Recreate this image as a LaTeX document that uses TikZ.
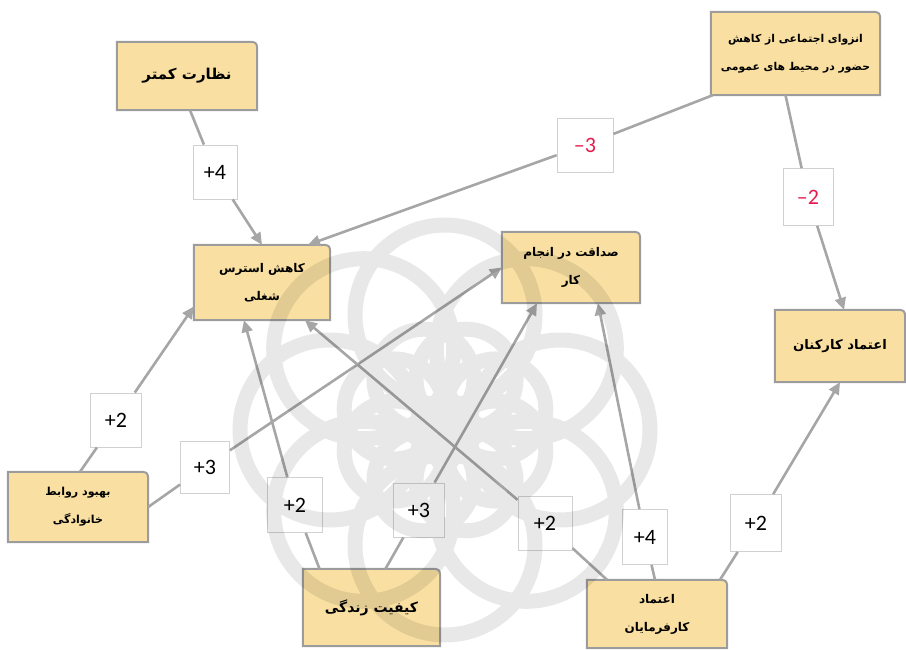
\documentclass[tikz,border=0pt]{standalone}
\usepackage{fontspec}
\usetikzlibrary{arrows.meta,backgrounds}
\TeXXeTstate=1
\newfontfamily\farsi[Script=Arabic]{DejaVu Sans}
\newfontfamily\numfont{Carlito}
\definecolor{cardfill}{HTML}{F9E0A2}
\definecolor{cardline}{HTML}{9C9C9C}
\definecolor{linkgray}{HTML}{A6A6A6}
\definecolor{negred}{HTML}{E8194C}

\begin{document}
\begin{tikzpicture}
  [x=1pt,y=-1pt,
   card/.style 2 args={minimum width=#1,minimum height=#2,inner sep=0pt,
     align=center,font=\farsi\bfseries\fontsize{12}{28}\selectfont},
   frame/.style={fill=cardfill,draw=cardline,line width=2pt},
   weight/.style={draw=black!18,fill=white,line width=0.8pt,
     minimum width=51pt,minimum height=54pt,inner sep=0pt,
     font=\numfont\fontsize{22}{24}\selectfont},
   link/.style={draw=linkgray,line width=2.6pt,
     -{Triangle[length=12pt,width=11pt]}},
   rosette/.style={draw=black,line width=15pt}]
  \useasboundingbox (0,0) rectangle (906,650);

  \node[card={140pt}{68pt},font=\farsi\bfseries\fontsize{15}{28}\selectfont]
    (nazarat) at (187,76) {\beginR نظارت کمتر\endR};
  \node[card={169pt}{83pt},font=\farsi\bfseries\fontsize{10.8}{28}\selectfont]
    (enzeva) at (795.5,53.5)
    {\beginR انزوای اجتماعی از کاهش\endR\\\beginR حضور در محیط های عمومی\endR};
  \node[card={136pt}{75pt}] (stress) at (262,282.5)
    {\beginR کاهش استرس\endR\\\beginR شغلی\endR};
  \node[card={138pt}{71pt}] (sedaghat) at (571,267.5)
    {\beginR صداقت در انجام\endR\\\beginR کار\endR};
  \node[card={130pt}{72pt},font=\farsi\bfseries\fontsize{13.2}{28}\selectfont]
    (karkonan) at (840,346) {\beginR اعتماد کارکنان\endR};
  \node[card={140pt}{70pt},font=\farsi\bfseries\fontsize{11}{28}\selectfont]
    (khanevadegi) at (78,507)
    {\beginR بهبود روابط\endR\\\beginR خانوادگی\endR};
  \node[card={137pt}{77pt},font=\farsi\bfseries\fontsize{14}{28}\selectfont]
    (zendegi) at (371.5,607.5) {\beginR کیفیت زندگی\endR};
  \node[card={140pt}{68pt}] (karfarmayan) at (657,614)
    {\beginR اعتماد\endR\\\beginR کارفرمایان\endR};

  \node[weight,minimum width=44pt] (w1) at (215,172) {+4};
  \node[weight,minimum width=56pt,text=negred] (w2) at (585,145) {–3};
  \node[weight,minimum width=50pt,minimum height=57pt,text=negred]
    (w3) at (808,197) {–2};
  \node[weight] (w4) at (116,420) {+2};
  \node[weight,minimum width=49pt,minimum height=52pt] (w5) at (205,467) {+3};
  \node[weight,minimum width=55pt,minimum height=55pt] (w6) at (295,505) {+2};
  \node[weight] (w7) at (419,510) {+3};
  \node[weight,minimum width=54pt] (w8) at (545,523) {+2};
  \node[weight,minimum width=45pt,minimum height=55pt] (w9) at (645,537) {+4};
  \node[weight,minimum height=57pt] (w10) at (756,523) {+2};

  \begin{scope}[on background layer]
    \foreach \n in {nazarat,enzeva,stress,sedaghat,karkonan,khanevadegi,
                    zendegi,karfarmayan}
      \draw[frame] (\n.south west) -- (\n.north west)
        -- ([xshift=-12pt]\n.north east)
        .. controls (\n.north east) .. ([yshift=-12pt]\n.north east)
        -- (\n.south east) -- cycle;
  \end{scope}

  % from / shift / via / to / shift
  \foreach \from/\fx/\fy/\via/\to/\tx/\ty in
    {nazarat.south/3/0/w1/stress.north/0/0,
     enzeva.south west/2/0/w2/stress.north/46/0,
     enzeva.south/-10/0/w3/karkonan.north/4/0,
     khanevadegi.north/2/0/w4/stress.west/0/-24,
     khanevadegi.east/0/0/w5/sedaghat.west/0/0,
     zendegi.north/-52/0/w6/stress.south/-18/0,
     zendegi.north/14/0/w7/sedaghat.south/-34/0,
     karfarmayan.north/-50/0/w8/stress.south/43/0,
     karfarmayan.north/-2/0/w9/sedaghat.south/27/0,
     karfarmayan.north/63/0/w10/karkonan.south/0/0}
    \draw[link] ([xshift=\fx pt,yshift=\fy pt]\from) -- (\via)
      -- ([xshift=\tx pt,yshift=\ty pt]\to);

  \begin{scope}[transparency group,opacity=0.09]
    \foreach \a in {0,45,...,315} {
      \draw[rosette] (445,430) ++(\a:115) circle (90pt);
      \draw[rosette] (445,430) ++(\a+22.5:55) circle (50pt);
    }
  \end{scope}
\end{tikzpicture}
\end{document}
